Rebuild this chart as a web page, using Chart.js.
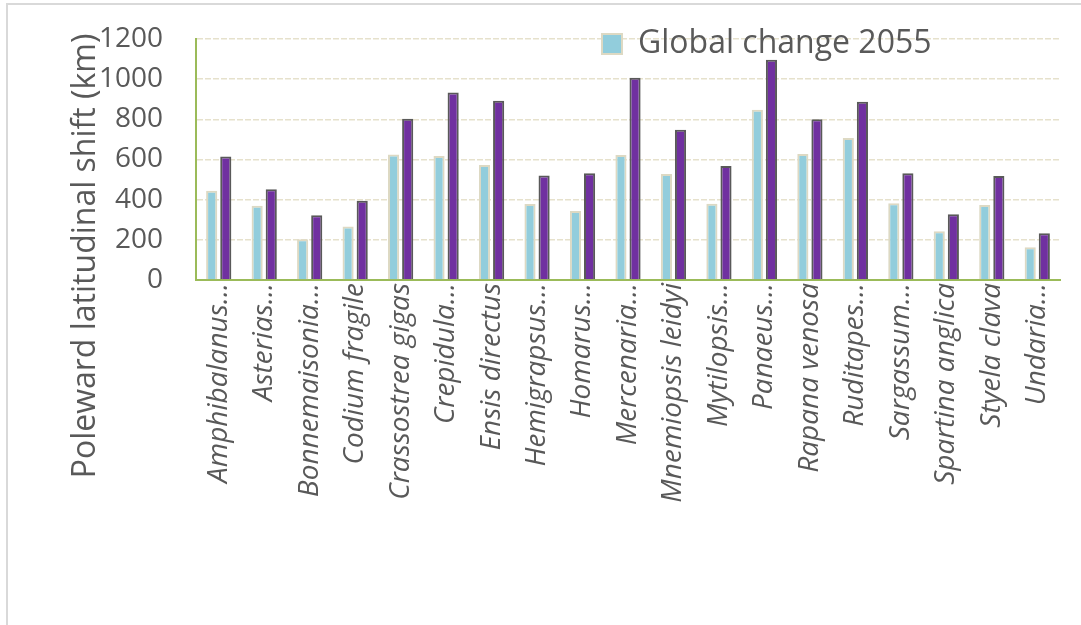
<!DOCTYPE html>
<html>
<head>
<meta charset="utf-8">
<script src="https://cdn.jsdelivr.net/npm/chart.js@4/dist/chart.umd.min.js"></script>
<style>
  html, body { margin: 0; padding: 0; background: #ffffff; }
  #frame { position: absolute; left: 6px; top: 3px; width: 1200px; height: 800px; border: 2px solid #d9d9d9; box-sizing: border-box; }
  #wrap { position: absolute; left: 0; top: 0; width: 1081px; height: 625px; }
</style>
</head>
<body>
<div id="frame"></div>
<div id="wrap"><canvas id="c" width="1081" height="625"></canvas></div>
<script>
const categories = [
  "Amphibalanus…", "Asterias…", "Bonnemaisonia…", "Codium fragile", "Crassostrea gigas",
  "Crepidula…", "Ensis directus", "Hemigrapsus…", "Homarus…", "Mercenaria…",
  "Mnemiopsis leidyi", "Mytilopsis…", "Panaeus…", "Rapana venosa", "Ruditapes…",
  "Sargassum…", "Spartina anglica", "Styela clava", "Undaria…"
];
const series2055Label = "Global change 2055";
const series2055 = [445, 370, 203, 267, 625, 617, 573, 378, 343, 623, 528, 380, 848, 628, 707, 382, 243, 373, 163];
const series2Label = "Global change 2080";
const series2 = [615, 452, 323, 395, 803, 933, 893, 520, 532, 1007, 748, 568, 1097, 800, 887, 532, 328, 518, 233];
const yTicks = [0, 200, 400, 600, 800, 1000, 1200];
const yTitle = "Poleward latitudinal shift (km)";

const TEXT = "#595959";

const yTitlePlugin = {
  id: "yTitleCustom",
  afterDraw(chart) {
    const ctx = chart.ctx;
    ctx.save();
    ctx.translate(86, 256);
    ctx.rotate(-Math.PI / 2);
    ctx.font = "32px 'Open Sans'";
    ctx.fillStyle = TEXT;
    ctx.textAlign = "center";
    ctx.textBaseline = "middle";
    ctx.fillText(yTitle, 0, 0);
    ctx.restore();
  }
};

const legendPlace = {
  id: "legendPlace",
  afterLayout(chart) {
    const lg = chart.legend;
    if (!lg) return;
    const w = lg.width, h = lg.height;
    lg.left = 592; lg.right = 592 + w;
    lg.top = 18; lg.bottom = 18 + h;
  }
};

new Chart(document.getElementById("c"), {
  type: "bar",
  data: {
    labels: categories,
    datasets: [
      {
        label: series2055Label,
        data: series2055,
        backgroundColor: "#92cddc",
        borderColor: "#ddd9c3",
        borderWidth: 2,
        categoryPercentage: 0.62,
        barPercentage: 0.79
      },
      {
        label: series2Label,
        data: series2,
        backgroundColor: "#7030a0",
        borderColor: "#595959",
        borderWidth: 2,
        categoryPercentage: 0.62,
        barPercentage: 0.79
      }
    ]
  },
  options: {
    responsive: false,
    animation: false,
    layout: { padding: { left: 0, right: 21, top: 39, bottom: 0 } },
    plugins: {
      legend: {
        position: "chartArea",
        align: "start",
        labels: {
          filter: (item) => item.datasetIndex === 0,
          boxWidth: 20,
          boxHeight: 20,
          padding: 10,
          color: TEXT,
          font: { family: "'Open Sans'", size: 32 }
        }
      },
      tooltip: { enabled: false }
    },
    scales: {
      x: {
        grid: { display: false, drawTicks: false },
        border: { display: true, color: "#9bbb59", width: 2 },
        ticks: {
          autoSkip: false,
          minRotation: 90,
          maxRotation: 90,
          padding: 3,
          color: TEXT,
          font: { family: "'Open Sans'", size: 28, style: "italic" }
        },
        afterFit(scale) { scale.height = 625 - 280; }
      },
      y: {
        min: 0,
        max: 1200,
        afterBuildTicks(scale) { scale.ticks = yTicks.map(v => ({ value: v })); },
        grid: { color: "#e6e1cc", lineWidth: 1.5, drawTicks: false },
        border: { display: true, color: "#9bbb59", width: 2, dash: [6, 2] },
        ticks: {
          padding: 33,
          color: TEXT,
          font: { family: "'Open Sans'", size: 28 },
          callback: (v) => String(v)
        },
        afterFit(scale) {
          scale.width = 196;
          scale.paddingTop = 17;
          scale.paddingBottom = 17;
        }
      }
    }
  },
  plugins: [yTitlePlugin, legendPlace]
});
</script>
</body>
</html>
